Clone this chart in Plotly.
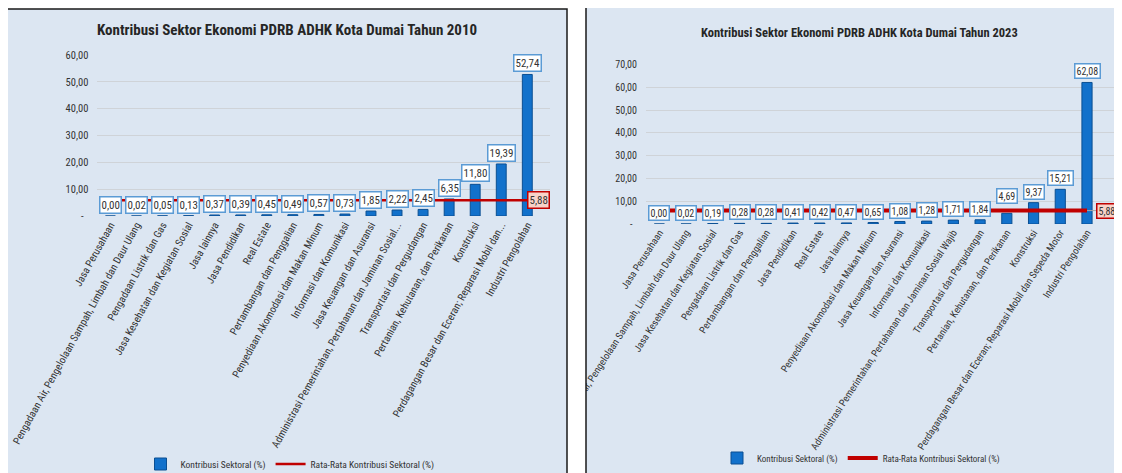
import plotly.graph_objects as go

# ---------- data ----------
SECTORS_2010 = [
    "Jasa Perusahaan",
    "Pengadaan Air, Pengelolaan Sampah, Limbah dan Daur Ulang",
    "Pengadaan Listrik dan Gas",
    "Jasa Kesehatan dan Kegiatan Sosial",
    "Jasa lainnya",
    "Jasa Pendidikan",
    "Real Estate",
    "Pertambangan dan Penggalian",
    "Penyediaan Akomodasi dan Makan Minum",
    "Informasi dan Komunikasi",
    "Jasa Keuangan dan Asuransi",
    "Administrasi Pemerintahan, Pertahanan dan Jaminan Sosial...",
    "Transportasi dan Pergudangan",
    "Pertanian, Kehutanan, dan Perikanan",
    "Konstruksi",
    "Perdagangan Besar dan Eceran; Reparasi Mobil dan...",
    "Industri Pengolahan",
]
SHARE_2010 = [0.00, 0.02, 0.05, 0.13, 0.37, 0.39, 0.45, 0.49, 0.57, 0.73,
              1.85, 2.22, 2.45, 6.35, 11.80, 19.39, 52.74]

SECTORS_2023 = [
    "Jasa Perusahaan",
    "Pengadaan Air, Pengelolaan Sampah, Limbah dan Daur Ulang",
    "Jasa Kesehatan dan Kegiatan Sosial",
    "Pengadaan Listrik dan Gas",
    "Pertambangan dan Penggalian",
    "Jasa Pendidikan",
    "Real Estate",
    "Jasa lainnya",
    "Penyediaan Akomodasi dan Makan Minum",
    "Jasa Keuangan dan Asuransi",
    "Informasi dan Komunikasi",
    "Administrasi Pemerintahan, Pertahanan dan Jaminan Sosial Wajib",
    "Transportasi dan Pergudangan",
    "Pertanian, Kehutanan, dan Perikanan",
    "Konstruksi",
    "Perdagangan Besar dan Eceran; Reparasi Mobil dan Sepeda Motor",
    "Industri Pengolahan",
]
SHARE_2023 = [0.00, 0.02, 0.19, 0.28, 0.28, 0.41, 0.42, 0.47, 0.65, 1.08,
              1.28, 1.71, 1.84, 4.69, 9.37, 15.21, 62.08]

AVG_2010 = 5.88
AVG_2023 = 5.88

YTICKS_2010 = [0, 10, 20, 30, 40, 50, 60]
YTICKS_2023 = [0, 10, 20, 30, 40, 50, 60, 70]

TITLE_2010 = "Kontribusi Sektor Ekonomi PDRB ADHK Kota Dumai Tahun 2010"
TITLE_2023 = "Kontribusi Sektor Ekonomi PDRB ADHK Kota Dumai Tahun 2023"
BAR_NAME = "Kontribusi Sektoral (%)"
AVG_NAME = "Rata-Rata Kontribusi Sektoral (%)"

# ---------- style ----------
# the page puts the figure 8 px in from the top-left corner
OFF = 8
W, H = 1122 - OFF, 473 - OFF
FONT = "Roboto Condensed, DejaVu Sans Condensed, sans-serif"
PANEL_BG = "#DCE6F2"
BAR_FILL = "#1271CB"
BAR_EDGE = "#0B4F92"
RED = "#C00000"
GRID = "#CFD3D8"
TXT = "#333333"


def px_x(p):
    return (p - OFF) / W


def px_y(p):
    return 1 - (p - OFF) / H


def fmt(v):
    return f"{v:.2f}".replace(".", ",")


def tick_text(vals):
    return ["-  " if v == 0 else fmt(v) for v in vals]


fig = go.Figure()

panels = [
    dict(cats=SECTORS_2010, vals=SHARE_2010, avg=AVG_2010, xa="x", ya="y",
         legend="legend", lw=2.5, size=11, ldx=0, leader=False),
    dict(cats=SECTORS_2023, vals=SHARE_2023, avg=AVG_2023, xa="x2", ya="y2",
         legend="legend2", lw=4, size=10, ldx=9, leader=True),
]

annotations = []
for p in panels:
    fig.add_trace(go.Bar(
        x=p["cats"], y=p["vals"], name=BAR_NAME,
        marker=dict(color=BAR_FILL, line=dict(color=BAR_EDGE, width=1)),
        width=0.38, xaxis=p["xa"], yaxis=p["ya"], legend=p["legend"],
    ))
    fig.add_trace(go.Scatter(
        x=p["cats"], y=[p["avg"]] * len(p["cats"]), name=AVG_NAME,
        mode="lines", line=dict(color=RED, width=p["lw"]),
        xaxis=p["xa"], yaxis=p["ya"], legend=p["legend"],
    ))
    # data labels
    for c, v in zip(p["cats"], p["vals"]):
        shift = 11
        if 0 < p["avg"] - v < 2:
            shift += 6
        annotations.append(dict(
            x=c, y=v, xref=p["xa"], yref=p["ya"], yshift=shift,
            xanchor="center", yanchor="middle",
            text=fmt(v), showarrow=False,
            font=dict(family=FONT, size=p["size"], color=TXT),
            bgcolor="white", bordercolor="#5B9BD5", borderwidth=1.5, borderpad=1,
        ))
    # average label
    annotations.append(dict(
        x=p["cats"][-1], y=p["avg"], xref=p["xa"], yref=p["ya"],
        text=fmt(p["avg"]), xanchor="left", yanchor="middle",
        showarrow=p["leader"], arrowhead=0, arrowcolor="#A6A6A6", arrowwidth=1,
        ax=p["ldx"], ay=0, xshift=0 if p["leader"] else p["ldx"],
        font=dict(family=FONT, size=p["size"], color=TXT),
        bgcolor="#F8D3C9", bordercolor=RED, borderwidth=1.5, borderpad=1,
    ))

annotations.append(dict(
    x=px_x(287), y=px_y(30), xref="paper", yref="paper", text=f"<b>{TITLE_2010}</b>",
    xanchor="center", yanchor="middle",
    showarrow=False, font=dict(family=FONT, size=15, color="#262626"),
))
annotations.append(dict(
    x=px_x(859), y=px_y(32), xref="paper", yref="paper", text=f"<b>{TITLE_2023}</b>",
    xanchor="center", yanchor="middle",
    showarrow=False, font=dict(family=FONT, size=12.5, color="#262626"),
))

# panel frames and backgrounds
shapes = [
    dict(type="rect", xref="paper", yref="paper", layer="below",
         x0=px_x(7), x1=px_x(567), y0=px_y(9), y1=px_y(490),
         fillcolor=PANEL_BG, line=dict(width=0)),
    dict(type="rect", xref="paper", yref="paper", layer="below",
         x0=px_x(586), x1=px_x(1135), y0=px_y(7), y1=px_y(490),
         fillcolor=PANEL_BG, line=dict(width=0)),
    # hide tick labels of the right chart that overflow its frame
    dict(type="rect", xref="paper", yref="paper", layer="above",
         x0=px_x(553), x1=px_x(567), y0=px_y(225), y1=px_y(490),
         fillcolor=PANEL_BG, line=dict(width=0)),
    dict(type="rect", xref="paper", yref="paper", layer="above",
         x0=px_x(567), x1=px_x(586), y0=px_y(225), y1=px_y(490),
         fillcolor="white", line=dict(width=0)),
    dict(type="rect", xref="paper", yref="paper", layer="above",
         x0=px_x(7), x1=px_x(567), y0=px_y(9), y1=px_y(490),
         fillcolor="rgba(0,0,0,0)", line=dict(color="#1A1A1A", width=1.5)),
    dict(type="rect", xref="paper", yref="paper", layer="above",
         x0=px_x(586), x1=px_x(1135), y0=px_y(7), y1=px_y(490),
         fillcolor="rgba(0,0,0,0)", line=dict(color="#1A1A1A", width=1.5)),
]

xaxis_common = dict(type="category", showgrid=False, zeroline=False, showline=False,
                    ticks="", color=TXT, automargin=False)
yaxis_common = dict(showgrid=True, gridcolor=GRID, gridwidth=1, zeroline=False,
                    showline=False, ticks="", color=TXT, ticklabelstandoff=8,
                    automargin=False)

fig.update_layout(
    width=W, height=H, autosize=False,
    margin=dict(l=0, r=0, t=0, b=0, autoexpand=False),
    paper_bgcolor="white", plot_bgcolor="rgba(0,0,0,0)",
    font=dict(family=FONT, color=TXT),
    bargap=0.62,
    xaxis=dict(**xaxis_common, domain=[px_x(97.4), px_x(550.3)], anchor="y",
               tickangle=-61, tickfont=dict(family=FONT, size=10.5, color=TXT)),
    yaxis=dict(**yaxis_common, domain=[px_y(216), px_y(55)], anchor="x",
               range=[0, 60], tickvals=YTICKS_2010, ticktext=tick_text(YTICKS_2010),
               tickfont=dict(family=FONT, size=10.5, color=TXT)),
    xaxis2=dict(**xaxis_common, domain=[px_x(646), px_x(1118)], anchor="y2",
                tickangle=-57, tickfont=dict(family=FONT, size=10, color=TXT)),
    yaxis2=dict(**yaxis_common, domain=[px_y(224), px_y(64.4)], anchor="x2",
                range=[0, 70], tickvals=YTICKS_2023, ticktext=tick_text(YTICKS_2023),
                tickfont=dict(family=FONT, size=10, color=TXT)),
    legend=dict(orientation="h", x=px_x(290), y=px_y(464), xanchor="center",
                yanchor="middle", bgcolor="rgba(0,0,0,0)",
                font=dict(family=FONT, size=9.5, color=TXT), itemwidth=30,
                tracegroupgap=0),
    legend2=dict(orientation="h", x=px_x(861), y=px_y(458), xanchor="center",
                 yanchor="middle", bgcolor="rgba(0,0,0,0)",
                 font=dict(family=FONT, size=9, color=TXT), itemwidth=30,
                 tracegroupgap=0),
    annotations=annotations,
    shapes=shapes,
)

fig.write_html("out.html")
